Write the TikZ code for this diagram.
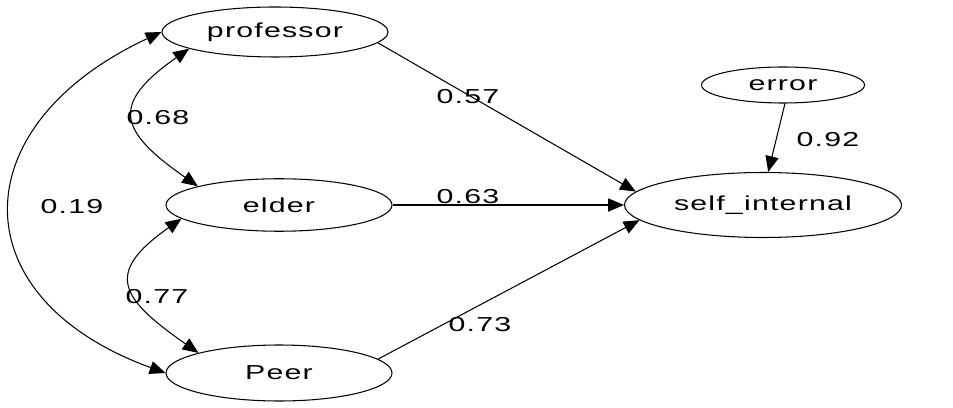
\documentclass[tikz,border=0pt]{standalone}
\usepackage{fontspec}
\newfontfamily\semfont[FakeStretch=1.5, LetterSpace=6]{Liberation Sans}
\usetikzlibrary{shapes.geometric,arrows.meta}

\tikzset{
  latent/.style={ellipse, draw, line width=0.6pt, inner sep=0pt, font=\semfont\fontsize{11.5}{13}\selectfont},
  coef/.style={inner sep=1pt, font=\semfont\fontsize{11.5}{13}\selectfont},
  path/.style={line width=0.6pt, -{Triangle[length=9pt,width=7.5pt]}},
  corr/.style={line width=0.6pt, {Triangle[length=9pt,width=7.5pt]}-{Triangle[length=9pt,width=7.5pt]}}
}

\begin{document}
\begin{tikzpicture}
\useasboundingbox (0,0) rectangle (19.06,8.14);

\node[latent, minimum width=4.52cm, minimum height=1.0cm] (prof) at (5.50, 7.50) {professor};
\node[latent, minimum width=4.52cm, minimum height=1.05cm] (elder) at (5.58, 4.04) {elder};
\node[latent, minimum width=4.52cm, minimum height=1.12cm] (peer) at (5.58, 0.68) {Peer};
\node[latent, minimum width=5.54cm, minimum height=1.3cm] (self) at (15.26, 4.04) {self\_internal};
\node[latent, minimum width=3.26cm, minimum height=0.72cm] (error) at (15.66, 6.44) {error};

% paths to self_internal
\draw[path] (prof.-6) -- (self.174);
\draw[path] (elder) -- (self);
\draw[path] (peer.8) -- (self.187);
\draw[path] (error.-84) -- (self.81);

% correlations
\draw[corr] (prof.191) to[out=215, in=145, looseness=1.8] (elder.167);
\draw[corr] (elder.188) to[out=215, in=145, looseness=1.8] (peer.166);
\draw[corr] (prof.180) to[out=205, in=160, looseness=1.65] (peer.180);

\node[coef] (c57) at (9.36, 6.20) {0.57};
\node[coef] (c63) at (9.36, 4.20) {0.63};
\node[coef] (c73) at (9.60, 1.64) {0.73};
\node[coef] (c92) at (16.56, 5.34) {0.92};
\node[coef] (c68) at (3.16, 5.78) {0.68};
\node[coef] (c77) at (3.14, 2.20) {0.77};
\node[coef] (c19) at (1.44, 4.00) {0.19};
\end{tikzpicture}
\end{document}
